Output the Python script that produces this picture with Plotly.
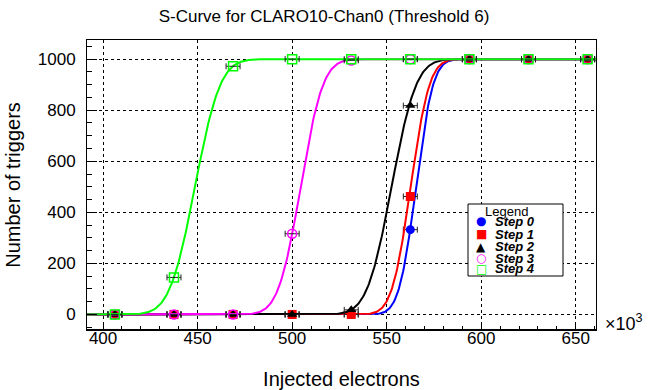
import math
import plotly.graph_objects as go

# ---- data ----
injected = [406.25, 437.5, 468.75, 500.0, 531.25, 562.5, 593.75, 625.0, 656.25]
x_err = [3.7] * 9
step_names = ["Step 0", "Step 1", "Step 2", "Step 3", "Step 4"]
step0 = [0, 0, 0, 0, 0, 332, 1000, 1000, 1000]
step1 = [0, 0, 0, 0, 0, 462, 1000, 1000, 1000]
step2 = [0, 0, 0, 0, 18, 818, 1000, 1000, 1000]
step3 = [0, 0, 0, 316, 995, 1000, 1000, 1000, 1000]
step4 = [0, 145, 972, 1000, 1000, 1000, 1000, 1000, 1000]
steps = [step0, step1, step2, step3, step4]
# S-curve fit parameters (mean, sigma) in 10^3 electrons
fit_mu = [565.5, 562.7, 552.6, 504.5, 448.6]
fit_sigma = [7.1, 7.8, 10.2, 9.3, 10.5]
n_trig = 1000

colors = ["#0000ff", "#ff0000", "#000000", "#ff00ff", "#00ff00"]
symbols = ["circle", "square", "triangle-up", "circle-open", "square-open"]
glyphs = ["●", "■", "▲", "○", "□"]

XR = [391.5, 660.7]
YR = [-61, 1075]

fig = go.Figure()
nfine = 600
xf = [XR[0] + (XR[1] - XR[0]) * i / (nfine - 1) for i in range(nfine)]
for i in range(5):
    yf = [n_trig * 0.5 * (1 + math.erf((x - fit_mu[i]) / (math.sqrt(2) * fit_sigma[i]))) for x in xf]
    fig.add_trace(go.Scatter(x=xf, y=yf, mode="lines", line=dict(color=colors[i], width=2),
                             showlegend=False, hoverinfo="skip"))
    fig.add_trace(go.Scatter(
        x=injected, y=steps[i], mode="markers", name=step_names[i], showlegend=False,
        marker=dict(symbol=symbols[i], color=colors[i], size=9,
                    line=dict(color=colors[i], width=1.5 if "open" in symbols[i] else 0)),
        error_x=dict(type="data", array=x_err, color="#222222", thickness=1, width=3)))

L, R, T, B = 87, 52, 40, 60
W, H = 648, 390
pw, ph = W - L - R, H - T - B


def px(xp):
    return (xp - L) / pw


def py(yp):
    return (H - B - yp) / ph


font_family = "Liberation Sans, Arial, sans-serif"
fig.update_layout(
    width=W, height=H, margin=dict(l=L, r=R, t=T, b=B, autoexpand=False),
    paper_bgcolor="white", plot_bgcolor="white",
    font=dict(family=font_family, color="black", size=17),
    title=dict(text="S-Curve for CLARO10-Chan0 (Threshold 6)", xref="container", x=0.5,
               xanchor="center", y=1 - 16 / H, yanchor="middle", font=dict(size=17)),
    showlegend=False,
)
fig.update_xaxes(
    range=XR, showline=True, mirror=True, linecolor="black", linewidth=1, automargin=False,
    showgrid=True, gridcolor="black", griddash="dot", gridwidth=1, zeroline=False,
    ticks="inside", ticklen=8, tickcolor="black", dtick=50, tick0=400,
    ticklabelstandoff=-7, tickfont=dict(size=17),
    minor=dict(ticks="inside", dtick=10, ticklen=4, tickcolor="black", showgrid=False),
    title=dict(text="Injected electrons", font=dict(size=20), standoff=25),
)
fig.update_yaxes(
    range=YR, showline=True, mirror=True, linecolor="black", linewidth=1, automargin=False,
    showgrid=True, gridcolor="black", griddash="dot", gridwidth=1, zeroline=False,
    ticks="inside", ticklen=10, tickcolor="black", dtick=200, tick0=0,
    ticklabelstandoff=7, tickfont=dict(size=17),
    minor=dict(ticks="inside", dtick=50, ticklen=5, tickcolor="black", showgrid=False),
    title=dict(text="Number of triggers", font=dict(size=20), standoff=11),
)

# thicker bottom frame line like the ROOT canvas
fig.add_shape(type="line", xref="paper", yref="paper", x0=0, x1=1, y0=0, y1=0,
              line=dict(color="black", width=2), layer="above")

# exponent label
fig.add_annotation(text="×10<sup>3</sup>", xref="paper", yref="paper", x=px(603), y=py(322),
                   xanchor="left", yanchor="middle", showarrow=False, font=dict(size=18))

# legend box (ROOT style, compact)
fig.add_shape(type="rect", xref="paper", yref="paper", x0=px(468), x1=px(563), y0=py(276), y1=py(204),
              line=dict(color="black", width=1), fillcolor="white", layer="above")
fig.add_annotation(text="Legend", xref="paper", yref="paper", x=px(506), y=py(211),
                   xanchor="center", yanchor="middle", showarrow=False, font=dict(size=13))
entry_y = [221, 234, 246.5, 258, 268.5]
for i in range(5):
    fig.add_annotation(text=glyphs[i], xref="paper", yref="paper", x=px(481), y=py(entry_y[i]),
                       xanchor="center", yanchor="middle", showarrow=False,
                       font=dict(size=12, color=colors[i], family="DejaVu Sans"))
    fig.add_annotation(text="<b><i>" + step_names[i] + "</i></b>", xref="paper", yref="paper",
                       x=px(493), y=py(entry_y[i]), xanchor="left", yanchor="middle",
                       showarrow=False, font=dict(size=13))

fig.write_html("out.html")
